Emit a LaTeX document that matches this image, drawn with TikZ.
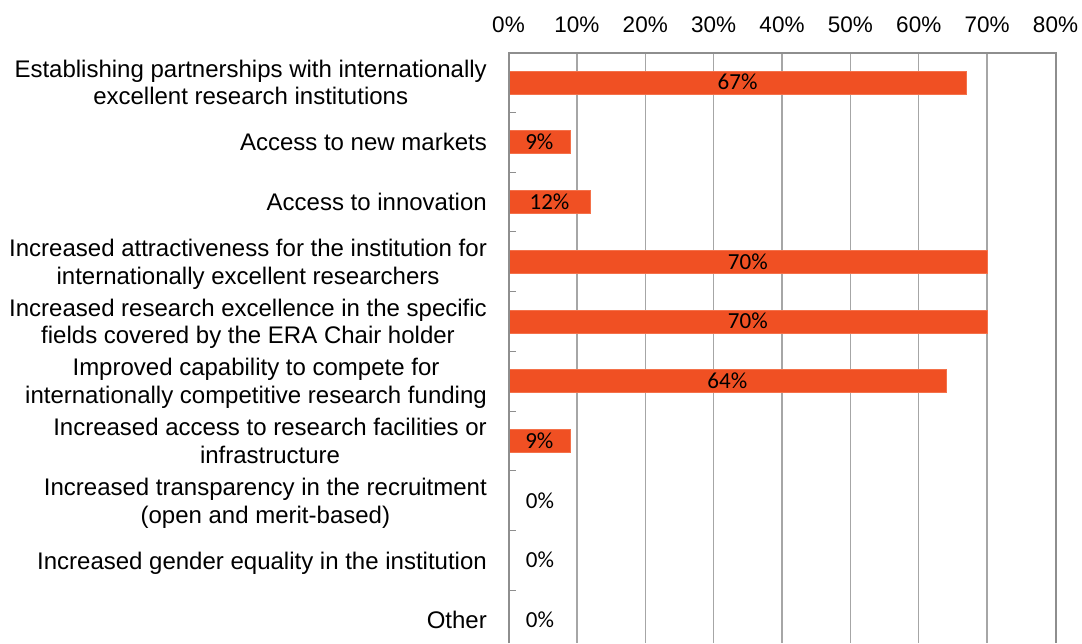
\documentclass[tikz,border=0pt]{standalone}
\usepackage{fontspec}
\setmainfont{Liberation Sans}
\newfontfamily\calib{Carlito}
\definecolor{barfill}{HTML}{F05023}
\definecolor{baredge}{HTML}{F4714A}
\definecolor{framegray}{HTML}{8E8E8E}
\definecolor{gridgray}{HTML}{A6A6A6}
\newcommand\twoline[2]{\begin{tabular}[t]{@{}c@{}}#1\\#2\end{tabular}}
\tikzset{
  catlabel/.style={anchor=base east, inner sep=0pt, font=\fontsize{24}{27.6}\selectfont},
  pctlabel/.style={anchor=base, inner sep=0pt, font=\calib\fontsize{23}{26}\selectfont},
  axislabel/.style={anchor=base, inner sep=0pt, font=\fontsize{22.5}{26}\selectfont},
  barrect/.style={fill=barfill, draw=baredge, line width=0.6pt},
  framepen/.style={draw=framegray, line width=2pt},
  gridpen/.style={draw=gridgray, line width=1.3pt},
  tickpen/.style={draw=framegray, line width=1pt}
}
\begin{document}
\begin{tikzpicture}[x=1pt,y=-1pt]
\path[use as bounding box] (0,0) rectangle (1082,643);
% gridlines
\foreach \k in {1,...,7} {
  \draw[gridpen] ({508.5+68.375*\k},52.5) -- ({508.5+68.375*\k},643);
}
% bars
\filldraw[barrect] (508.5,70.8) rectangle (966.6,94.0);
\filldraw[barrect] (508.5,130.5) rectangle (570.0,153.7);
\filldraw[barrect] (508.5,190.3) rectangle (590.6,213.5);
\filldraw[barrect] (508.5,250.0) rectangle (987.1,273.2);
\filldraw[barrect] (508.5,309.8) rectangle (987.1,333.0);
\filldraw[barrect] (508.5,369.5) rectangle (946.1,392.7);
\filldraw[barrect] (508.5,429.3) rectangle (570.0,452.5);
% frame
\draw[framepen] (508.5,643) -- (508.5,52.5) -- (1055.5,52.5) -- (1055.5,643);
% ticks
\foreach \k in {1,...,9} {
  \draw[tickpen] (508.5,{52.5+59.75*\k}) -- (516,{52.5+59.75*\k});
}
% axis labels
\foreach \k/\t in {0/0,1/10,2/20,3/30,4/40,5/50,6/60,7/70,8/80} {
  \node[axislabel] (ax\k) at ({508.5+68.375*\k},32.3) {\t\%};
}
% category labels
\node[catlabel] (c0) at (487,77.2) {\twoline{Establishing partnerships with internationally}{excellent research institutions}};
\node[catlabel] (c1) at (487,150.7) {Access to new markets};
\node[catlabel] (c2) at (487,210.5) {Access to innovation};
\node[catlabel] (c3) at (487,256.4) {\twoline{Increased attractiveness for the institution for}{internationally excellent researchers}};
\node[catlabel] (c4) at (487,316.2) {\twoline{Increased research excellence in the specific}{fields covered by the ERA Chair holder}};
\node[catlabel] (c5) at (487,375.9) {\twoline{Improved capability to compete for}{internationally competitive research funding}};
\node[catlabel] (c6) at (487,435.7) {\twoline{Increased access to research facilities or}{infrastructure}};
\node[catlabel] (c7) at (487,495.4) {\twoline{Increased transparency in the recruitment}{(open and merit-based)}};
\node[catlabel] (c8) at (487,569.0) {Increased gender equality in the institution};
\node[catlabel] (c9) at (487,628.7) {Other};
% value labels
\node[pctlabel] (v0) at (737.6,89.9) {67\%};
\node[pctlabel] (v1) at (539.3,149.6) {9\%};
\node[pctlabel] (v2) at (549.5,209.4) {12\%};
\node[pctlabel] (v3) at (747.8,269.1) {70\%};
\node[pctlabel] (v4) at (747.8,328.9) {70\%};
\node[pctlabel] (v5) at (727.3,388.6) {64\%};
\node[pctlabel] (v6) at (539.3,448.4) {9\%};
\node[pctlabel] (v7) at (540,508.1) {0\%};
\node[pctlabel] (v8) at (540,567.9) {0\%};
\node[pctlabel] (v9) at (540,627.6) {0\%};
\end{tikzpicture}
\end{document}
